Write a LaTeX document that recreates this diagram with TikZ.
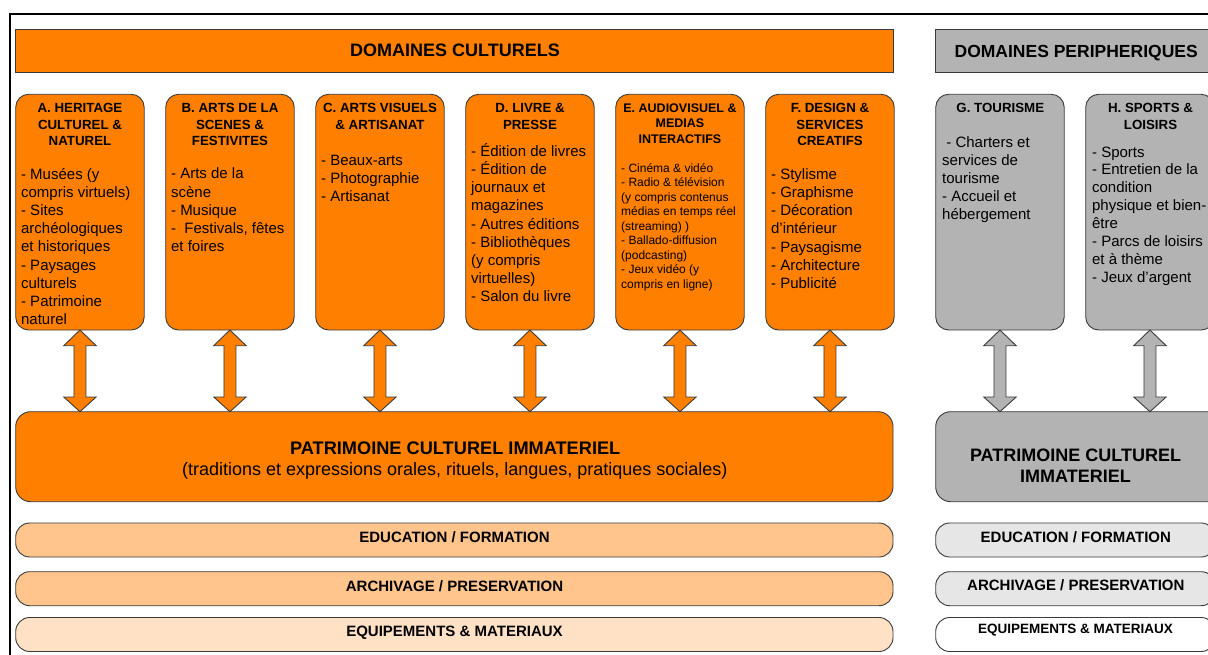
\documentclass[tikz,border=0pt]{standalone}
\usepackage{fontspec}
\setmainfont{Liberation Sans}
\usetikzlibrary{calc}
\definecolor{orng}{HTML}{FF8000}
\definecolor{lorng}{HTML}{FFC58C}
\definecolor{llorng}{HTML}{FFE2C6}
\definecolor{gry}{HTML}{B3B3B3}
\definecolor{lgry}{HTML}{E6E6E6}
\definecolor{edgec}{HTML}{3A3A3A}
\newcommand\fstr{\rule{0pt}{20pt}}
\newcommand\dblarr[3]{%
  \path[#1] let \p1=(#2.south), \p2=($(#3.north -| #2.south)$) in
    (\x1,\y1) -- (\x1+16.2pt,\y1-15.7pt) -- (\x1+6pt,\y1-15.7pt) -- (\x1+6pt,\y2+14.7pt)
    -- (\x1+16.2pt,\y2+14.7pt) -- (\x2,\y2) -- (\x1-16.2pt,\y2+14.7pt) -- (\x1-6pt,\y2+14.7pt)
    -- (\x1-6pt,\y1-15.7pt) -- (\x1-16.2pt,\y1-15.7pt) -- cycle;}
\tikzset{
  shp/.style={draw=edgec, line width=0.9pt, inner sep=0pt, outer sep=0pt, anchor=north west},
  catbox/.style={shp, rounded corners=13pt, minimum width=128.5pt, minimum height=235.7pt},
  bigbox/.style={shp, rounded corners=15pt, minimum height=90pt},
  barbox/.style={shp, rounded corners=14pt, minimum height=34pt},
  headbar/.style={shp, minimum height=43.2pt},
  txt/.style={inner sep=0pt, outer sep=0pt, text=black},
  ttl/.style={txt, anchor=north, align=center, font=\bfseries\fontsize{13.3}{16.65}\selectfont},
  bdy/.style={txt, anchor=north west, align=left, font=\fontsize{15}{18.2}\selectfont},
  bartxt/.style={txt, anchor=base, font=\bfseries\fontsize{15}{18}\selectfont},
  oarr/.style={fill=orng, draw=edgec, line width=0.9pt, line join=miter},
  garr/.style={fill=gry, draw=edgec, line width=0.9pt, line join=miter},
}
\begin{document}
\begin{tikzpicture}[x=1pt, y=-1pt]
\useasboundingbox (0,0) rectangle (1208,655);
\clip (0,0) rectangle (1208,655);
\fill[white] (0,0) rectangle (1208,655);
% frame
\draw[line width=1.6pt, black] (1230,14) -| (10,680);
% header bars
\node[headbar, fill=orng, minimum width=878pt] (dc) at (15,29.5) {};
\node[headbar, fill=gry, minimum width=300pt] (dp) at (935.7,29.5) {};
\node[txt, anchor=base, font=\bfseries\fontsize{18}{21.6}\selectfont] (dct) at (455,56.7) {DOMAINES CULTURELS};
\node[txt, anchor=base, font=\bfseries\fontsize{17.5}{21}\selectfont] (dpt) at (1076.2,57.7) {DOMAINES PERIPHERIQUES};
% category boxes
\node[catbox, fill=orng] (A) at (15.7,94.3) {};
\node[catbox, fill=orng] (B) at (165.7,94.3) {};
\node[catbox, fill=orng] (C) at (315.7,94.3) {};
\node[catbox, fill=orng] (D) at (465.7,94.3) {};
\node[catbox, fill=orng] (E) at (615.7,94.3) {};
\node[catbox, fill=orng] (F) at (765.7,94.3) {};
\node[catbox, fill=gry] (G) at (935.7,94.3) {};
\node[catbox, fill=gry] (H) at (1085.7,94.3) {};
% titles
\node[ttl] (At) at (80,92.5) {\fstr A. HERITAGE\\CULTUREL \&\\NATUREL};
\node[ttl] (Bt) at (230,92.5) {\fstr B. ARTS DE LA\\SCENES \&\\FESTIVITES};
\node[ttl] (Ct) at (380,92.5) {\fstr C. ARTS VISUELS\\\& ARTISANAT};
\node[ttl] (Dt) at (530,92.5) {\fstr D. LIVRE \&\\PRESSE};
\node[ttl, font=\bfseries\fontsize{12.5}{15.5}\selectfont] (Et) at (680,92.5) {\fstr E. AUDIOVISUEL \&\\MEDIAS\\INTERACTIFS};
\node[ttl] (Ft) at (830,92.5) {\fstr F. DESIGN \&\\SERVICES\\CREATIFS};
\node[ttl] (Gt) at (1000.3,92.5) {\fstr G. TOURISME};
\node[ttl] (Ht) at (1150.5,92.5) {\fstr H. SPORTS \&\\LOISIRS};
% bodies
\node[bdy] (Ab) at (21.1,159) {\fstr - Musées (y\\compris virtuels)\\- Sites\\archéologiques\\et historiques\\- Paysages\\culturels\\- Patrimoine\\naturel};
\node[bdy] (Bb) at (171.1,159) {\fstr - Arts de la\\scène\\- Musique\\-\ \ Festivals, fêtes\\et foires};
\node[bdy] (Cb) at (321.1,145.3) {\fstr - Beaux-arts\\- Photographie\\- Artisanat};
\node[bdy] (Db) at (471.1,136.3) {\fstr - Édition de livres\\- Édition de\\journaux et\\magazines\\- Autres éditions\\- Bibliothèques\\(y compris\\virtuelles)\\- Salon du livre};
\node[bdy, font=\fontsize{12}{14.5}\selectfont] (Eb) at (621.2,152.3) {\fstr - Cinéma \& vidéo\\- Radio \& télévision\\(y compris contenus\\médias en temps réel\\(streaming) )\\- Ballado-diffusion\\(podcasting)\\- Jeux vidéo (y\\compris en ligne)};
\node[bdy] (Fb) at (771.1,159.3) {\fstr - Stylisme\\- Graphisme\\- Décoration\\d’intérieur\\- Paysagisme\\- Architecture\\- Publicité};
\node[bdy, font=\fontsize{15}{18}\selectfont] (Gb) at (942.2,127.6) {\fstr\ - Charters et\\services de\\tourisme\\- Accueil et\\hébergement};
\node[bdy, font=\fontsize{15}{18}\selectfont] (Hb) at (1092.1,137) {\fstr - Sports\\- Entretien de la\\condition\\physique et bien-\\être\\- Parcs de loisirs\\et à thème\\- Jeux d’argent};
% intangible heritage boxes
\node[bigbox, fill=orng, minimum width=877.3pt] (pci) at (15.7,411.7) {};
\node[bigbox, fill=gry, minimum width=300pt] (pcig) at (935.7,411.7) {};
\node[txt, anchor=base, font=\bfseries\fontsize{18.2}{21}\selectfont] (pcit) at (455.2,454.3) {PATRIMOINE CULTUREL IMMATERIEL};
\node[txt, anchor=base, font=\fontsize{18}{21}\selectfont] (pcis) at (454.8,475.5) {(traditions et expressions orales, rituels, langues, pratiques sociales)};
\node[txt, anchor=base, font=\bfseries\fontsize{18}{21}\selectfont] (pcig1) at (1075.5,461.7) {PATRIMOINE CULTUREL};
\node[txt, anchor=base, font=\bfseries\fontsize{18}{21}\selectfont] (pcig2) at (1075.5,482.7) {IMMATERIEL};
% arrows
\dblarr{oarr}{A}{pci}
\dblarr{oarr}{B}{pci}
\dblarr{oarr}{C}{pci}
\dblarr{oarr}{D}{pci}
\dblarr{oarr}{E}{pci}
\dblarr{oarr}{F}{pci}
\dblarr{garr}{G}{pcig}
\dblarr{garr}{H}{pcig}
% bottom bars
\node[barbox, fill=lorng, minimum width=877.3pt] (edu) at (15.7,523) {};
\node[barbox, fill=lorng, minimum width=877.3pt] (arch) at (15.7,571.7) {};
\node[barbox, fill=llorng, minimum width=877.3pt] (equ) at (15.7,617.5) {};
\node[barbox, fill=lgry, minimum width=279.5pt] (edug) at (935.7,523) {};
\node[barbox, fill=lgry, minimum width=279.5pt] (archg) at (935.7,571.7) {};
\node[barbox, fill=white, minimum width=279.5pt] (equg) at (935.7,617.5) {};
\node[bartxt] (edut) at (454.5,542.7) {EDUCATION / FORMATION};
\node[bartxt] (archt) at (454.5,591.7) {ARCHIVAGE / PRESERVATION};
\node[bartxt] (equt) at (454.5,636.7) {EQUIPEMENTS \& MATERIAUX};
\node[bartxt] (edugt) at (1075.8,542.7) {EDUCATION / FORMATION};
\node[bartxt] (archgt) at (1075.8,590.7) {ARCHIVAGE / PRESERVATION};
\node[bartxt, font=\bfseries\fontsize{13.5}{16}\selectfont] (equgt) at (1075.5,633.3) {EQUIPEMENTS \& MATERIAUX};
\end{tikzpicture}
\end{document}
